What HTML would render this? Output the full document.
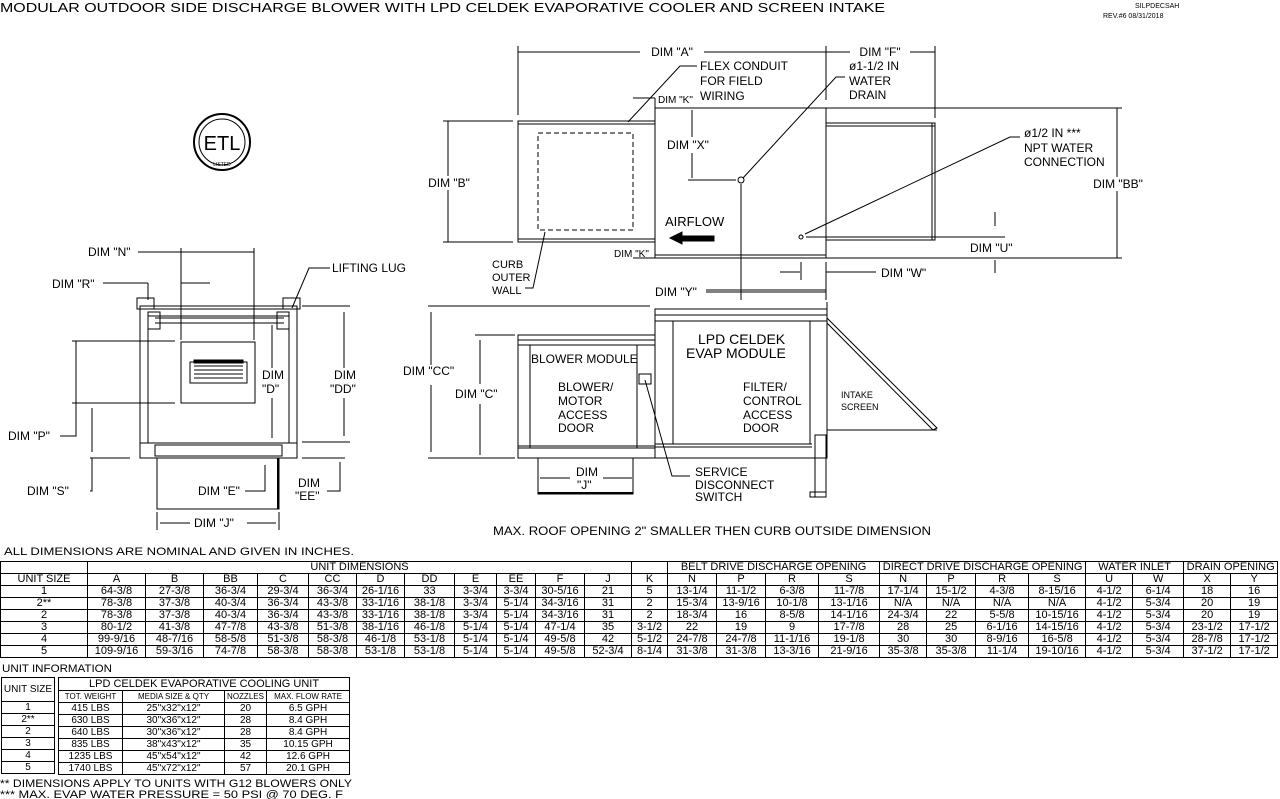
<!DOCTYPE html>
<html><head><meta charset="utf-8"><style>
body{margin:0;background:#fff;width:1280px;height:799px;overflow:hidden;position:relative;font-family:"Liberation Sans",sans-serif}
svg{position:absolute;left:0;top:0}
svg text{font-family:"Liberation Sans",sans-serif;fill:#000}
table{position:absolute;border-collapse:collapse;table-layout:fixed;font-size:11px;line-height:11px}
td{border:1px solid #000;text-align:center;padding:0;height:11px;white-space:nowrap;overflow:hidden}
.small td{font-size:10px}
</style></head><body>
<svg width="1280" height="799" viewBox="0 0 1280 799" stroke="#000" fill="none" stroke-width="1">
<g stroke="none" font-size="13">
<text x="0" y="12" textLength="885" lengthAdjust="spacingAndGlyphs">MODULAR OUTDOOR SIDE DISCHARGE BLOWER WITH LPD CELDEK EVAPORATIVE COOLER AND SCREEN INTAKE</text>
<text x="1135" y="8" font-size="7">SILPDECSAH</text>
<text x="1103" y="18" font-size="7">REV.#6  08/31/2018</text>
</g>
<!-- ETL logo -->
<circle cx="222" cy="142" r="28" stroke-width="2"/><circle cx="222" cy="142" r="23"/>
<text x="222" y="150" font-size="20" text-anchor="middle" stroke="none">ETL</text>
<text x="222" y="166" font-size="5" text-anchor="middle" stroke="none">LISTED</text>

<!-- TOP VIEW -->
<line x1="518" y1="52" x2="826" y2="52"/><line x1="826" y1="52" x2="935" y2="52"/>
<line x1="518" y1="46" x2="518" y2="115"/><line x1="826" y1="46" x2="826" y2="100"/><line x1="935" y1="46" x2="935" y2="118"/>
<rect x="640" y="45" width="64" height="14" fill="#fff" stroke="none"/>
<text x="672" y="56" font-size="12" text-anchor="middle" stroke="none">DIM "A"</text>
<rect x="850" y="45" width="60" height="14" fill="#fff" stroke="none"/>
<text x="880" y="56" font-size="12" text-anchor="middle" stroke="none">DIM "F"</text>
<rect x="518" y="121" width="137" height="121"/><line x1="518" y1="124" x2="655" y2="124"/><line x1="518" y1="239" x2="655" y2="239"/>
<rect x="538" y="133" width="95" height="97" stroke-dasharray="5,3"/>
<rect x="655" y="108" width="171" height="150"/><line x1="655" y1="255" x2="826" y2="255"/>
<rect x="826" y="123" width="109" height="117"/><line x1="826" y1="126" x2="935" y2="126"/><line x1="826" y1="237" x2="935" y2="237"/><line x1="932" y1="123" x2="932" y2="240"/>
<line x1="826" y1="108" x2="1122" y2="108"/><line x1="826" y1="258" x2="1122" y2="258"/>
<line x1="443" y1="121" x2="513" y2="121"/><line x1="443" y1="242" x2="513" y2="242"/>
<line x1="448" y1="121" x2="448" y2="242"/>
<rect x="422" y="176" width="54" height="14" fill="#fff" stroke="none"/>
<text x="449" y="187" font-size="12" text-anchor="middle" stroke="none">DIM "B"</text>
<line x1="1117" y1="108" x2="1117" y2="258"/>
<rect x="1090" y="177" width="56" height="14" fill="#fff" stroke="none"/>
<text x="1118" y="188" font-size="12" text-anchor="middle" stroke="none">DIM "BB"</text>
<g font-size="12" stroke="none">
<text x="700" y="70">FLEX CONDUIT</text><text x="700" y="85">FOR FIELD</text><text x="700" y="100">WIRING</text>
<text x="658" y="103" font-size="10">DIM "K"</text>
<text x="614" y="257" font-size="10">DIM "K"</text>
<text x="849" y="70">ø1-1/2 IN</text><text x="849" y="85">WATER</text><text x="849" y="99">DRAIN</text>
<text x="1024" y="137">ø1/2 IN ***</text><text x="1024" y="152">NPT WATER</text><text x="1024" y="166">CONNECTION</text>
<text x="667" y="149">DIM "X"</text>
<text x="665" y="226" font-size="13">AIRFLOW</text>
<text x="970" y="252">DIM "U"</text>
<text x="881" y="277">DIM "W"</text>
<text x="655" y="296">DIM "Y"</text>
<text x="492" y="268" font-size="11">CURB</text><text x="492" y="281" font-size="11">OUTER</text><text x="492" y="294" font-size="11">WALL</text>
</g>
<polyline points="697,66 680,66 628,122"/>
<polyline points="845,77 836,77 743,178"/>
<polyline points="1020,137 1010,137 805,234"/>
<polyline points="525,288 533,288 545,232"/>
<line x1="692" y1="110" x2="692" y2="137"/><line x1="692" y1="153" x2="692" y2="178"/>
<line x1="688" y1="180" x2="736" y2="180"/><circle cx="741" cy="180" r="3"/><line x1="741" y1="184" x2="741" y2="300"/>
<circle cx="801" cy="237" r="2"/><line x1="806" y1="237" x2="1005" y2="237"/>
<line x1="995" y1="212" x2="995" y2="226"/><line x1="995" y1="260" x2="995" y2="273"/>
<polygon points="670,238 682,232 682,236 714,236 714,241 682,241 682,244" fill="#000"/>
<line x1="780" y1="272" x2="800" y2="272"/><line x1="801" y1="262" x2="801" y2="280"/><line x1="826" y1="262" x2="826" y2="300"/><line x1="826" y1="272" x2="876" y2="272"/>
<line x1="706" y1="292" x2="826" y2="292"/>
<line x1="633" y1="98" x2="655" y2="98"/><line x1="655" y1="98" x2="655" y2="108"/>
<line x1="633" y1="258" x2="655" y2="258"/>

<!-- FRONT VIEW -->
<g font-size="12" stroke="none">
<text x="88" y="256">DIM "N"</text><text x="52" y="288">DIM "R"</text>
<text x="332" y="272">LIFTING LUG</text>
<text x="262" y="379">DIM</text><text x="262" y="393">"D"</text>
<text x="334" y="379">DIM</text><text x="330" y="393">"DD"</text>
<text x="8" y="440">DIM "P"</text><text x="27" y="495">DIM "S"</text>
<text x="198" y="495">DIM "E"</text>
<text x="298" y="487">DIM</text><text x="295" y="500">"EE"</text>
<text x="194" y="527">DIM "J"</text>
<text x="403" y="375">DIM "CC"</text>
</g>
<line x1="138" y1="252" x2="254" y2="252"/><line x1="181" y1="248" x2="181" y2="340"/><line x1="254" y1="248" x2="254" y2="340"/>
<line x1="103" y1="283" x2="148" y2="283"/><line x1="148" y1="283" x2="148" y2="300"/><line x1="181" y1="283" x2="210" y2="283"/>
<polyline points="330,268 309,268 292,308"/>
<rect x="140" y="306" width="157" height="137"/><line x1="140" y1="309" x2="297" y2="309"/>
<rect x="148" y="316" width="141" height="127"/>
<line x1="155" y1="318" x2="284" y2="318"/><line x1="155" y1="323" x2="284" y2="323"/>
<rect x="137" y="298" width="17" height="11"/><rect x="283" y="298" width="17" height="11"/>
<rect x="148" y="312" width="12" height="17"/><rect x="277" y="312" width="12" height="17"/>
<rect x="181" y="342" width="74" height="61"/>
<rect x="190" y="362" width="57" height="21"/><rect x="194" y="360" width="49" height="3" fill="#000"/>
<line x1="194" y1="366" x2="243" y2="366"/><line x1="194" y1="370" x2="243" y2="370"/><line x1="194" y1="374" x2="243" y2="374"/><line x1="194" y1="378" x2="243" y2="378"/>
<line x1="72" y1="341" x2="175" y2="341"/><line x1="72" y1="403" x2="175" y2="403"/><line x1="76" y1="341" x2="76" y2="403"/>
<polyline points="60,436 76,436 76,403"/>
<line x1="92" y1="408" x2="92" y2="452"/><line x1="90" y1="458" x2="130" y2="458"/>
<polyline points="90,491 92,491 92,458"/>
<rect x="140" y="443" width="157" height="15"/><rect x="155" y="445" width="127" height="11"/>
<rect x="157" y="458" width="122" height="51"/><line x1="278" y1="458" x2="278" y2="509" stroke-width="2"/>
<line x1="302" y1="306" x2="350" y2="306"/><line x1="302" y1="442" x2="350" y2="442"/><line x1="302" y1="458" x2="345" y2="458"/>
<line x1="344" y1="312" x2="344" y2="368"/><line x1="344" y1="398" x2="344" y2="436"/>
<polyline points="327,491 340,491 340,462 340,475"/>
<line x1="272" y1="325" x2="272" y2="368"/><line x1="272" y1="398" x2="272" y2="438"/>
<line x1="430" y1="306" x2="450" y2="306"/><line x1="430" y1="458" x2="450" y2="458"/><line x1="431" y1="312" x2="431" y2="365"/><line x1="431" y1="385" x2="431" y2="452"/>
<polyline points="245,491 265,491 265,465"/>
<line x1="157" y1="512" x2="157" y2="530"/><line x1="279" y1="512" x2="279" y2="530"/>
<line x1="160" y1="523" x2="190" y2="523"/><line x1="247" y1="523" x2="276" y2="523"/>

<!-- SIDE VIEW -->
<line x1="428" y1="306" x2="650" y2="306"/><line x1="428" y1="458" x2="510" y2="458"/>
<line x1="475" y1="335" x2="515" y2="335"/><line x1="475" y1="458" x2="515" y2="458"/>
<line x1="480" y1="340" x2="480" y2="384"/><line x1="480" y1="404" x2="480" y2="455"/>
<text x="455" y="398" font-size="12" stroke="none">DIM "C"</text>
<rect x="518" y="335" width="137" height="123"/><line x1="518" y1="340" x2="655" y2="340"/><line x1="518" y1="345" x2="655" y2="345"/>
<line x1="530" y1="345" x2="530" y2="448"/><line x1="637" y1="345" x2="637" y2="448"/>
<line x1="518" y1="448" x2="655" y2="448"/><line x1="518" y1="446" x2="655" y2="446"/>
<rect x="538" y="458" width="95" height="36"/><line x1="538" y1="493" x2="633" y2="493" stroke-width="2"/>
<rect x="655" y="309" width="172" height="149"/><line x1="655" y1="315" x2="827" y2="315"/><line x1="655" y1="321" x2="827" y2="321"/>
<line x1="673" y1="321" x2="673" y2="444"/><line x1="810" y1="321" x2="810" y2="444"/>
<line x1="655" y1="444" x2="812" y2="444"/><line x1="655" y1="447" x2="812" y2="447"/>
<line x1="827" y1="302" x2="827" y2="435"/>
<polygon points="827,318 937,428 933,430 827,323"/>
<line x1="827" y1="430" x2="937" y2="430"/>
<rect x="815" y="435" width="11" height="62"/><rect x="810" y="492" width="16" height="5"/>
<rect x="639" y="374" width="12" height="10"/>
<polyline points="645,380 672,476 690,476"/>
<line x1="540" y1="478" x2="570" y2="478"/><line x1="603" y1="478" x2="632" y2="478"/>
<line x1="706" y1="290" x2="826" y2="290"/>
<g font-size="12" stroke="none">
<text x="531" y="363">BLOWER MODULE</text>
<text x="558" y="391">BLOWER/</text><text x="558" y="405">MOTOR</text><text x="558" y="419">ACCESS</text><text x="558" y="432">DOOR</text>
<text x="698" y="344" font-size="14">LPD CELDEK</text><text x="686" y="358" font-size="14">EVAP MODULE</text>
<text x="743" y="391">FILTER/</text><text x="743" y="405">CONTROL</text><text x="743" y="419">ACCESS</text><text x="743" y="432">DOOR</text>
<text x="841" y="398" font-size="9">INTAKE</text><text x="841" y="410" font-size="9">SCREEN</text>
<text x="576" y="476">DIM</text><text x="577" y="489">"J"</text>
<text x="695" y="476">SERVICE</text><text x="695" y="489">DISCONNECT</text><text x="695" y="501">SWITCH</text>
<text x="493" y="535" textLength="438" lengthAdjust="spacingAndGlyphs">MAX. ROOF OPENING 2" SMALLER THEN CURB OUTSIDE DIMENSION</text>
<text x="4" y="555" font-size="11" textLength="350" lengthAdjust="spacingAndGlyphs">ALL DIMENSIONS ARE NOMINAL AND GIVEN IN INCHES.</text>
<text x="2" y="672" font-size="11" textLength="110" lengthAdjust="spacingAndGlyphs">UNIT INFORMATION</text>
<text x="0" y="787" font-size="11" textLength="352" lengthAdjust="spacingAndGlyphs">** DIMENSIONS APPLY TO UNITS WITH G12 BLOWERS ONLY</text>
<text x="0" y="798" font-size="11" textLength="343" lengthAdjust="spacingAndGlyphs">*** MAX. EVAP WATER PRESSURE = 50 PSI @ 70 DEG. F</text>
</g>
</svg>

<table style="left:0;top:561px;width:1278px">
<colgroup><col style="width:87px"><col style="width:58px"><col style="width:58px"><col style="width:54px"><col style="width:51px"><col style="width:48px"><col style="width:48px"><col style="width:50px"><col style="width:42px"><col style="width:39px"><col style="width:49px"><col style="width:47px"><col style="width:36px"><col style="width:49px"><col style="width:49px"><col style="width:53px"><col style="width:61px"><col style="width:47px"><col style="width:49px"><col style="width:53px"><col style="width:57px"><col style="width:47px"><col style="width:51px"><col style="width:47px"><col style="width:47px"></colgroup>
<tr><td></td><td colspan="11">UNIT DIMENSIONS</td><td></td><td colspan="4">BELT DRIVE DISCHARGE OPENING</td><td colspan="4">DIRECT DRIVE DISCHARGE OPENING</td><td colspan="2">WATER INLET</td><td colspan="2">DRAIN OPENING</td></tr>
<tr><td>UNIT SIZE</td><td>A</td><td>B</td><td>BB</td><td>C</td><td>CC</td><td>D</td><td>DD</td><td>E</td><td>EE</td><td>F</td><td>J</td><td>K</td><td>N</td><td>P</td><td>R</td><td>S</td><td>N</td><td>P</td><td>R</td><td>S</td><td>U</td><td>W</td><td>X</td><td>Y</td></tr>
<tr><td>1</td><td>64-3/8</td><td>27-3/8</td><td>36-3/4</td><td>29-3/4</td><td>36-3/4</td><td>26-1/16</td><td>33</td><td>3-3/4</td><td>3-3/4</td><td>30-5/16</td><td>21</td><td>5</td><td>13-1/4</td><td>11-1/2</td><td>6-3/8</td><td>11-7/8</td><td>17-1/4</td><td>15-1/2</td><td>4-3/8</td><td>8-15/16</td><td>4-1/2</td><td>6-1/4</td><td>18</td><td>16</td></tr>
<tr><td>2**</td><td>78-3/8</td><td>37-3/8</td><td>40-3/4</td><td>36-3/4</td><td>43-3/8</td><td>33-1/16</td><td>38-1/8</td><td>3-3/4</td><td>5-1/4</td><td>34-3/16</td><td>31</td><td>2</td><td>15-3/4</td><td>13-9/16</td><td>10-1/8</td><td>13-1/16</td><td>N/A</td><td>N/A</td><td>N/A</td><td>N/A</td><td>4-1/2</td><td>5-3/4</td><td>20</td><td>19</td></tr>
<tr><td>2</td><td>78-3/8</td><td>37-3/8</td><td>40-3/4</td><td>36-3/4</td><td>43-3/8</td><td>33-1/16</td><td>38-1/8</td><td>3-3/4</td><td>5-1/4</td><td>34-3/16</td><td>31</td><td>2</td><td>18-3/4</td><td>16</td><td>8-5/8</td><td>14-1/16</td><td>24-3/4</td><td>22</td><td>5-5/8</td><td>10-15/16</td><td>4-1/2</td><td>5-3/4</td><td>20</td><td>19</td></tr>
<tr><td>3</td><td>80-1/2</td><td>41-3/8</td><td>47-7/8</td><td>43-3/8</td><td>51-3/8</td><td>38-1/16</td><td>46-1/8</td><td>5-1/4</td><td>5-1/4</td><td>47-1/4</td><td>35</td><td>3-1/2</td><td>22</td><td>19</td><td>9</td><td>17-7/8</td><td>28</td><td>25</td><td>6-1/16</td><td>14-15/16</td><td>4-1/2</td><td>5-3/4</td><td>23-1/2</td><td>17-1/2</td></tr>
<tr><td>4</td><td>99-9/16</td><td>48-7/16</td><td>58-5/8</td><td>51-3/8</td><td>58-3/8</td><td>46-1/8</td><td>53-1/8</td><td>5-1/4</td><td>5-1/4</td><td>49-5/8</td><td>42</td><td>5-1/2</td><td>24-7/8</td><td>24-7/8</td><td>11-1/16</td><td>19-1/8</td><td>30</td><td>30</td><td>8-9/16</td><td>16-5/8</td><td>4-1/2</td><td>5-3/4</td><td>28-7/8</td><td>17-1/2</td></tr>
<tr><td>5</td><td>109-9/16</td><td>59-3/16</td><td>74-7/8</td><td>58-3/8</td><td>58-3/8</td><td>53-1/8</td><td>53-1/8</td><td>5-1/4</td><td>5-1/4</td><td>49-5/8</td><td>52-3/4</td><td>8-1/4</td><td>31-3/8</td><td>31-3/8</td><td>13-3/16</td><td>21-9/16</td><td>35-3/8</td><td>35-3/8</td><td>11-1/4</td><td>19-10/16</td><td>4-1/2</td><td>5-3/4</td><td>37-1/2</td><td>17-1/2</td></tr>
</table>

<table style="left:1px;top:677px;width:54px" class="small">
<tr><td style="height:23px">UNIT SIZE</td></tr>
<tr><td style="height:9px">1</td></tr><tr><td style="height:9px">2**</td></tr><tr><td style="height:9px">2</td></tr><tr><td style="height:9px">3</td></tr><tr><td style="height:9px">4</td></tr><tr><td style="height:9px">5</td></tr>
</table>
<table style="left:58px;top:677px;width:291px" class="small">
<colgroup><col style="width:64px"><col style="width:102px"><col style="width:42px"><col style="width:83px"></colgroup>
<tr><td colspan="4" style="font-size:11px;height:12px">LPD CELDEK EVAPORATIVE COOLING UNIT</td></tr>
<tr><td style="font-size:8px;height:9px">TOT. WEIGHT</td><td style="font-size:8px">MEDIA SIZE &amp; QTY</td><td style="font-size:8px">NOZZLES</td><td style="font-size:8px">MAX. FLOW RATE</td></tr>
<tr><td style="height:9px">415 LBS</td><td>25"x32"x12"</td><td>20</td><td>6.5 GPH</td></tr>
<tr><td style="height:9px">630 LBS</td><td>30"x36"x12"</td><td>28</td><td>8.4 GPH</td></tr>
<tr><td style="height:9px">640 LBS</td><td>30"x36"x12"</td><td>28</td><td>8.4 GPH</td></tr>
<tr><td style="height:9px">835 LBS</td><td>38"x43"x12"</td><td>35</td><td>10.15 GPH</td></tr>
<tr><td style="height:9px">1235 LBS</td><td>45"x54"x12"</td><td>42</td><td>12.6 GPH</td></tr>
<tr><td style="height:9px">1740 LBS</td><td>45"x72"x12"</td><td>57</td><td>20.1 GPH</td></tr>
</table>
</body></html>
